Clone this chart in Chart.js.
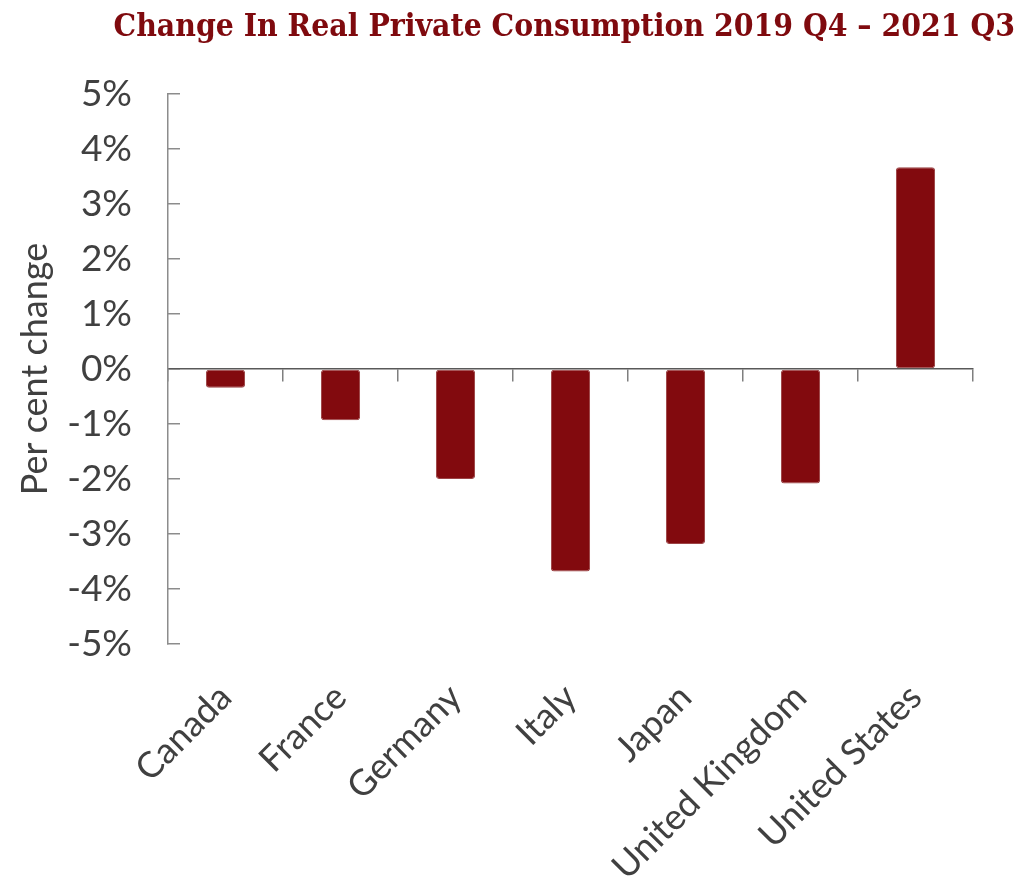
<!DOCTYPE html>
<html>
<head>
<meta charset="utf-8">
<title>Change In Real Private Consumption</title>
<script src="https://cdn.jsdelivr.net/npm/chart.js@4.4.1/dist/chart.umd.min.js"></script>
<style>
  html, body { margin: 0; padding: 0; background: #fff; }
  #wrap { width: 1036px; height: 879px; }
</style>
</head>
<body>
<div id="wrap"><canvas id="consumptionChart" width="1036" height="879"></canvas></div>
<script>
// real private consumption, % change 2019 Q4 -> 2021 Q3
const countries = ['Canada', 'France', 'Germany', 'Italy', 'Japan', 'United Kingdom', 'United States'];
const pctChange = [-0.34, -0.93, -2.0, -3.68, -3.18, -2.08, 3.67];
const yTicks = [5, 4, 3, 2, 1, 0, -1, -2, -3, -4, -5];

const headingText = 'Change In Real Private Consumption 2019 Q4 \u2013 2021 Q3';
const barColor = '#820a0e';
const textColor = '#404040';
const axisGrey = '#8c8c8c';

// heading drawn in a slab-serif face, right aligned above the plot
const headingPlugin = {
    id: 'heading',
    afterDraw(chart) {
        const ctx = chart.ctx;
        ctx.save();
        ctx.font = 'bold 31.6px "DejaVu Serif Condensed", "Liberation Serif", serif';
        ctx.fillStyle = '#7f0a0e';
        ctx.textAlign = 'right';
        ctx.textBaseline = 'alphabetic';
        ctx.fillText(headingText, chart.width - 21, 36, 903);
        ctx.restore();
    }
};

const ctx = document.getElementById('consumptionChart');
new Chart(ctx, {
    type: 'bar',
    data: {
        labels: countries,
        datasets: [{
            data: pctChange,
            backgroundColor: barColor,
            borderColor: '#9c4446',
            borderWidth: 1,
            borderRadius: 3,
            borderSkipped: false,
            categoryPercentage: 1,
            barPercentage: 0.34
        }]
    },
    options: {
        responsive: false,
        animation: false,
        layout: { padding: { top: 94, right: 63, left: 0, bottom: 0 } },
        plugins: {
            legend: { display: false },
            title: { display: false },
            tooltip: { enabled: false }
        },
        scales: {
            x: {
                type: 'category',
                position: 'bottom',
                offset: true,
                grid: { display: false, drawTicks: false },
                border: { display: false },
                ticks: {
                    minRotation: 45,
                    maxRotation: 45,
                    autoSkip: false,
                    padding: 32,
                    color: textColor,
                    font: { family: 'Lato', size: 36 }
                },
                afterFit(scale) { scale.height = 235; }
            },
            // zero line with category tick marks hanging below it
            zero: {
                type: 'category',
                axis: 'x',
                position: { y: 0 },
                offset: true,
                grid: {
                    offset: true,
                    drawOnChartArea: false,
                    drawTicks: true,
                    tickLength: 12,
                    color: '#7f7f7f',
                    lineWidth: 1.5
                },
                border: { display: true, color: '#595959', width: 1.5 },
                ticks: { display: false }
            },
            y: {
                type: 'linear',
                min: -5,
                max: 5,
                afterBuildTicks(scale) {
                    scale.ticks = yTicks.map(v => ({ value: v }));
                },
                grid: {
                    drawOnChartArea: false,
                    drawTicks: true,
                    tickLength: -12,
                    color: axisGrey,
                    lineWidth: 1.5
                },
                border: { display: true, color: axisGrey, width: 1.5 },
                ticks: {
                    padding: 48,
                    color: textColor,
                    font: { family: 'Lato', size: 37 },
                    callback: v => v + '%'
                },
                title: {
                    display: true,
                    text: 'Per cent change',
                    color: textColor,
                    font: { family: 'Lato', size: 36 },
                    padding: { top: 14, bottom: 0 }
                },
                afterFit(scale) { scale.width = 168; }
            }
        }
    },
    plugins: [headingPlugin]
});
</script>
</body>
</html>
